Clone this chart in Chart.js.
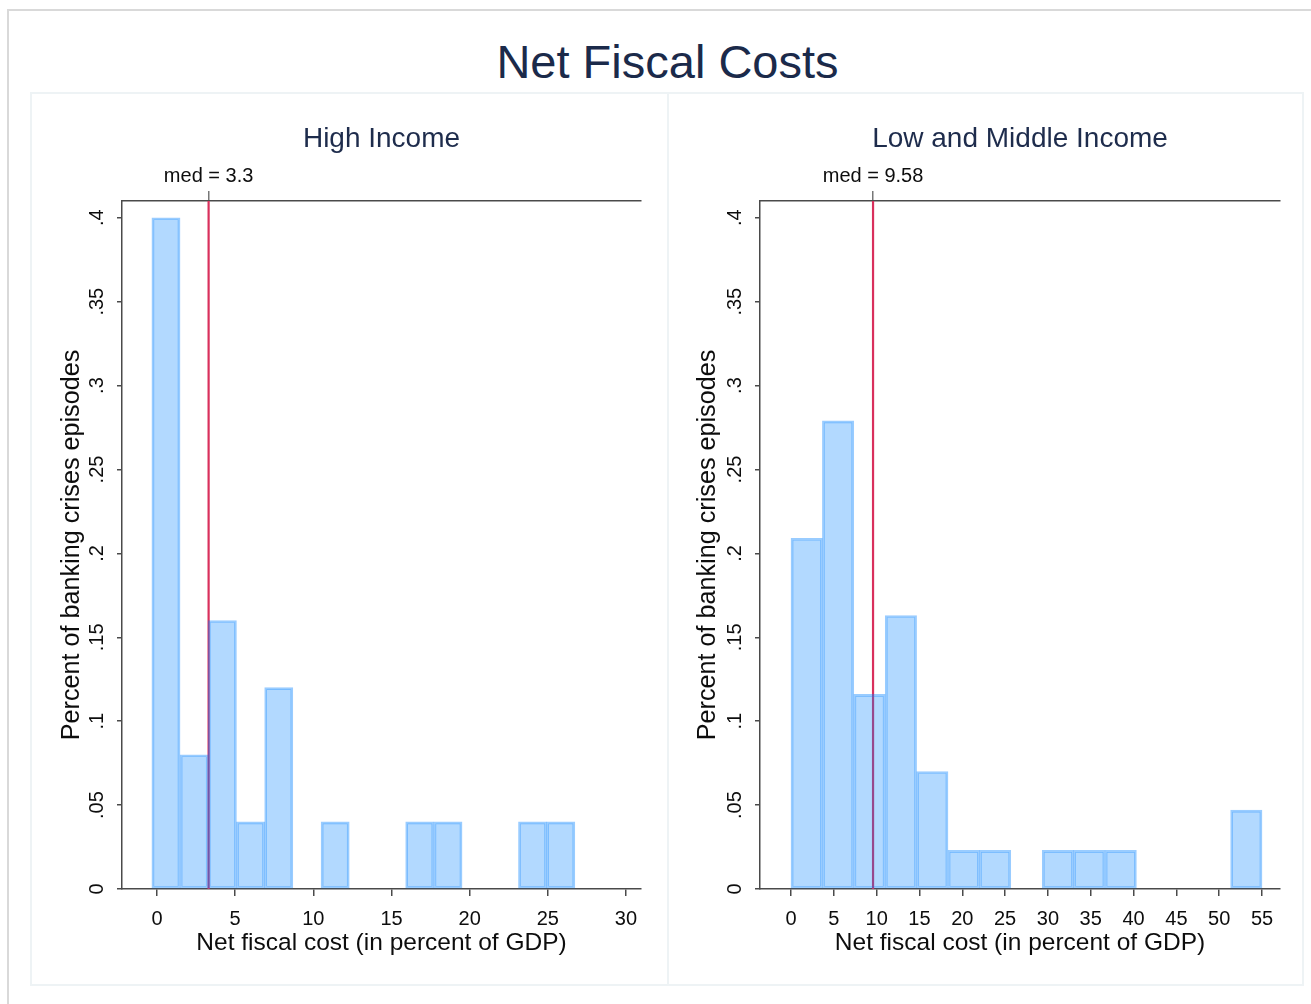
<!DOCTYPE html>
<html>
<head>
<meta charset="utf-8">
<script src="https://cdn.jsdelivr.net/npm/chart.js@4/dist/chart.umd.min.js"></script>
<style>
  html, body { margin: 0; padding: 0; background: #ffffff; width: 1311px; height: 1004px; overflow: hidden;
               font-family: "Liberation Sans", Arial, sans-serif; }
  #frame { position: absolute; left: 7px; top: 9px; width: 1330px; height: 1030px;
           border-left: 2px solid #d9d9d9; border-top: 2px solid #d9d9d9; }
  #mainTitle { position: absolute; left: 0; top: 34px; width: 1335px; text-align: center;
               font-size: 47px; line-height: 56px; color: #1b2a4a; }
  .panelBox { position: absolute; top: 92px; height: 894px; border: 2px solid #eef3f5; box-sizing: border-box; }
  .chartBox { position: absolute; top: 93px; height: 892px; }
</style>
</head>
<body>
<div id="frame"></div>
<div id="mainTitle">Net Fiscal Costs</div>
<div class="panelBox" style="left:30px;width:639px;"></div>
<div class="panelBox" style="left:667px;width:637px;"></div>
<div class="chartBox" style="left:31px;width:636px;"><canvas id="highChart"></canvas></div>
<div class="chartBox" style="left:668px;width:635px;"><canvas id="lowChart"></canvas></div>

<script>
// Histogram bins: midpoints and share of banking-crisis episodes in each bin
const highCenters = [0.572, 2.376, 4.180, 5.984, 7.788, 9.592, 11.396, 13.200, 15.004, 16.808, 18.612, 20.416, 22.220, 24.024, 25.828];
const highShares  = [0.40, 0.08, 0.16, 0.04, 0.12, 0, 0.04, 0, 0, 0.04, 0.04, 0, 0, 0.04, 0.04];
const highMedian  = 3.3;

const lowCenters = [1.833, 5.500, 9.167, 12.833, 16.500, 20.167, 23.833, 27.500, 31.167, 34.833, 38.500, 42.167, 45.833, 49.500, 53.167];
const lowShares  = [0.209, 0.279, 0.116, 0.163, 0.070, 0.023, 0.023, 0, 0.023, 0.023, 0.023, 0, 0, 0, 0.047];
const lowMedian  = 9.58;

// Axis ticks
const highXTicks = [0, 5, 10, 15, 20, 25, 30];
const lowXTicks  = [0, 5, 10, 15, 20, 25, 30, 35, 40, 45, 50, 55];
const yTicks      = [0, 0.05, 0.1, 0.15, 0.2, 0.25, 0.3, 0.35, 0.4];
const yTickLabels = ["0", ".05", ".1", ".15", ".2", ".25", ".3", ".35", ".4"];

const panelTitles = ["High Income", "Low and Middle Income"];
const xTitle = "Net fiscal cost (in percent of GDP)";
const yTitle = "Percent of banking crises episodes";

const FONT = "'Liberation Sans', Arial, sans-serif";
const AXIS_COLOR = "#4a4a4a";
const TEXT_COLOR = "#0d0d0d";

function buildHistogram(canvasId, cfg) {
  const yMax = 0.41;
  const barData = cfg.centers.map((c, i) => ({ x: c, y: cfg.shares[i] }));
  return new Chart(document.getElementById(canvasId), {
    type: 'bar',
    data: {
      datasets: [
        {
          type: 'bar',
          data: barData,
          backgroundColor: 'rgba(0,128,255,0.30)',
          borderColor: 'rgba(0,128,255,0.40)',
          borderWidth: 2,
          borderSkipped: false,
          barPercentage: 1.0,
          categoryPercentage: 1.0,
          order: 1
        },
        {
          type: 'line',
          data: [{ x: cfg.median, y: 0 }, { x: cfg.median, y: yMax }],
          borderColor: '#d9305c',
          borderWidth: 2.2,
          pointRadius: 0,
          tension: 0,
          order: 2
        }
      ]
    },
    options: {
      responsive: true,
      maintainAspectRatio: false,
      animation: false,
      events: [],
      layout: { padding: { left: 0, right: cfg.rightPad, top: 0, bottom: 27 } },
      plugins: {
        legend: { display: false },
        tooltip: { enabled: false },
        title: {
          display: true,
          text: cfg.title,
          fullSize: false,
          color: '#1e2c4c',
          font: { family: FONT, size: 28, weight: 'normal' },
          padding: { top: 29.4, bottom: 3 }
        }
      },
      scales: {
        x: {
          type: 'linear',
          position: 'bottom',
          offset: false,
          min: cfg.xMin,
          max: cfg.xMax,
          afterBuildTicks: s => { s.ticks = cfg.xTicks.map(v => ({ value: v })); },
          afterFit: s => { s.height = 69; },
          ticks: {
            color: TEXT_COLOR, font: { family: FONT, size: 20 }, padding: 11,
            autoSkip: false, maxRotation: 0, minRotation: 0,
            callback: v => String(v)
          },
          grid: { offset: false, drawOnChartArea: false, drawTicks: true, tickLength: 7, color: AXIS_COLOR, lineWidth: 1.5 },
          border: { display: true, color: AXIS_COLOR, width: 1.5 },
          title: { display: true, text: xTitle, color: TEXT_COLOR, font: { family: FONT, size: 24.5 }, padding: { top: 0, bottom: 0 } }
        },
        x2: {
          type: 'linear',
          position: 'top',
          offset: false,
          min: cfg.xMin,
          max: cfg.xMax,
          afterBuildTicks: s => { s.ticks = [{ value: cfg.median }]; },
          afterFit: s => { s.height = 42; },
          ticks: {
            color: TEXT_COLOR, font: { family: FONT, size: 20 }, padding: 3,
            autoSkip: false, maxRotation: 0, minRotation: 0,
            callback: () => 'med = ' + cfg.median
          },
          grid: { offset: false, drawOnChartArea: false, drawTicks: true, tickLength: 10, color: '#777777', lineWidth: 1.5 },
          border: { display: true, color: AXIS_COLOR, width: 1.5 }
        },
        y: {
          type: 'linear',
          position: 'left',
          min: 0,
          max: yMax,
          afterBuildTicks: s => { s.ticks = yTicks.map(v => ({ value: v })); },
          afterFit: s => { s.width = cfg.yWidth; },
          ticks: {
            color: TEXT_COLOR, font: { family: FONT, size: 20 }, padding: 6,
            minRotation: 90, maxRotation: 90, crossAlign: 'center', autoSkip: false,
            callback: v => yTickLabels[yTicks.indexOf(v)] ?? ''
          },
          grid: { drawOnChartArea: false, drawTicks: true, tickLength: 5, color: AXIS_COLOR, lineWidth: 1.5 },
          border: { display: true, color: AXIS_COLOR, width: 1.5 },
          title: { display: true, text: yTitle, color: TEXT_COLOR, font: { family: FONT, size: 25.2 }, padding: { top: cfg.yTitlePad, bottom: 0 } }
        }
      }
    }
  });
}

buildHistogram('highChart', {
  centers: highCenters, shares: highShares, median: highMedian,
  xMin: -2.24, xMax: 30.96, xTicks: highXTicks,
  title: panelTitles[0], yWidth: 91, yTitlePad: 26, rightPad: 26
});

buildHistogram('lowChart', {
  centers: lowCenters, shares: lowShares, median: lowMedian,
  xMin: -3.62, xMax: 57.1, xTicks: lowXTicks,
  title: panelTitles[1], yWidth: 92, yTitlePad: 25, rightPad: 23
});
</script>
</body>
</html>
